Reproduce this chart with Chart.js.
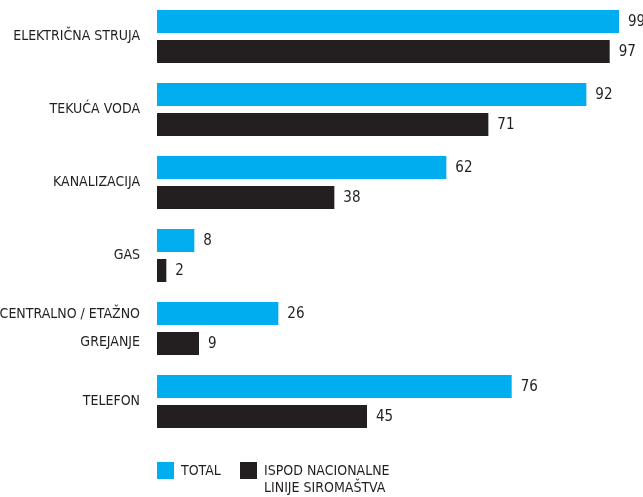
<!DOCTYPE html>
<html>
<head>
<meta charset="utf-8">
<script src="https://cdn.jsdelivr.net/npm/chart.js@4"></script>
<style>
  html, body { margin: 0; padding: 0; background: #fff; }
  .wrap { position: relative; width: 643px; height: 497px; }
  .legend {
    position: absolute; left: 157px; top: 460px;
    font-family: "Liberation Sans Narrow", "DejaVu Sans Condensed", sans-serif;
    font-size: 14px; color: #231f20; line-height: 17px;
  }
  .legend .item { position: absolute; top: 0; white-space: nowrap; }
  .legend .box { position: absolute; top: 2px; width: 17px; height: 17px; }
  .legend .txt { position: absolute; left: 24px; top: 2px; }
</style>
</head>
<body>
<div class="wrap">
  <canvas id="c" width="643" height="497"></canvas>
  <div class="legend" id="legend"></div>
</div>
<script>
const categories = [
  'ELEKTRIČNA STRUJA',
  'TEKUĆA VODA',
  'KANALIZACIJA',
  'GAS',
  ['CENTRALNO / ETAŽNO', 'GREJANJE'],
  'TELEFON'
];
const totalValues = [99, 92, 62, 8, 26, 76];
const poorValues = [97, 71, 38, 2, 9, 45];
const seriesNames = ['TOTAL', 'ISPOD NACIONALNE\nLINIJE SIROMAŠTVA'];
const colors = ['#00aeef', '#231f20'];

const font = '"Liberation Sans Narrow", "DejaVu Sans Condensed", sans-serif';

// value labels right of each bar
const valueLabels = {
  id: 'valueLabels',
  afterDatasetsDraw(chart) {
    const ctx = chart.ctx;
    ctx.save();
    ctx.font = '15px ' + font;
    ctx.fillStyle = '#231f20';
    ctx.textBaseline = 'middle';
    chart.data.datasets.forEach((ds, i) => {
      chart.getDatasetMeta(i).data.forEach((bar, j) => {
        ctx.fillText(ds.data[j], bar.x + 9, bar.y + 1);
      });
    });
    ctx.restore();
  }
};

new Chart(document.getElementById('c'), {
  type: 'bar',
  data: {
    labels: categories,
    datasets: [
      { label: seriesNames[0], data: totalValues, backgroundColor: colors[0] },
      { label: seriesNames[1], data: poorValues, backgroundColor: colors[1] }
    ]
  },
  options: {
    indexAxis: 'y',
    responsive: false,
    animation: false,
    categoryPercentage: 0.822,
    barPercentage: 0.767,
    layout: { padding: { top: 0, right: 19.3, bottom: 59, left: 0 } },
    plugins: { legend: { display: false }, tooltip: { enabled: false } },
    scales: {
      x: { display: false, min: 0, max: 100 },
      y: {
        grid: { display: false, drawTicks: false },
        border: { display: false },
        afterFit: s => { s.width = 157; s.paddingTop = 0; s.paddingBottom = 0; },
        ticks: {
          padding: 17,
          color: '#231f20',
          font: { family: font, size: 14, lineHeight: 2.05 }
        }
      }
    }
  },
  plugins: [valueLabels]
});

const legend = document.getElementById('legend');
const offsets = [0, 83];
seriesNames.forEach((name, i) => {
  const item = document.createElement('div');
  item.className = 'item';
  item.style.left = offsets[i] + 'px';
  item.innerHTML = '<span class="box" style="background:' + colors[i] + '"></span>' +
    '<span class="txt">' + name.replace('\n', '<br>') + '</span>';
  legend.appendChild(item);
});
</script>
</body>
</html>
